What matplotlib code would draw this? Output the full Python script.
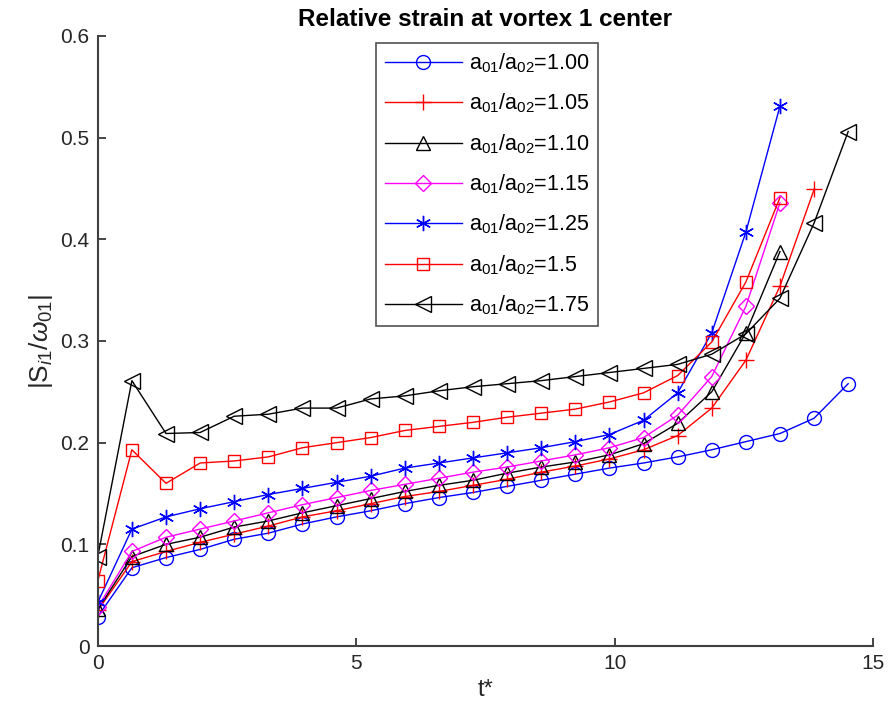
import matplotlib.pyplot as plt

plt.rcParams['font.family'] = ['Liberation Sans', 'DejaVu Sans']
plt.rcParams['mathtext.fontset'] = 'custom'
plt.rcParams['mathtext.rm'] = 'Liberation Sans'
plt.rcParams['mathtext.it'] = 'Liberation Sans:italic'

# time samples t*
t = [0.0, 0.66, 1.32, 1.98, 2.64, 3.30, 3.96, 4.62, 5.28, 5.94, 6.60, 7.26,
     7.92, 8.58, 9.24, 9.90, 10.56, 11.22, 11.88, 12.54, 13.20, 13.86, 14.52]

# |S_i1 / omega_01| for each radius ratio
s_100 = [0.029, 0.077, 0.087, 0.095, 0.105, 0.111, 0.120, 0.127, 0.133, 0.140, 0.146, 0.151,
         0.157, 0.163, 0.169, 0.175, 0.180, 0.186, 0.193, 0.201, 0.209, 0.224, 0.258]
s_105 = [0.035, 0.083, 0.093, 0.102, 0.110, 0.118, 0.127, 0.133, 0.140, 0.147, 0.152, 0.158,
         0.164, 0.171, 0.177, 0.184, 0.193, 0.207, 0.234, 0.281, 0.354, 0.449]
s_110 = [0.036, 0.088, 0.100, 0.107, 0.117, 0.123, 0.131, 0.138, 0.145, 0.152, 0.158, 0.163,
         0.170, 0.176, 0.181, 0.188, 0.199, 0.219, 0.250, 0.308, 0.388]
s_115 = [0.038, 0.093, 0.107, 0.115, 0.123, 0.131, 0.139, 0.146, 0.153, 0.159, 0.165, 0.171,
         0.176, 0.182, 0.188, 0.195, 0.205, 0.227, 0.265, 0.334, 0.436]
s_125 = [0.043, 0.115, 0.127, 0.135, 0.142, 0.149, 0.155, 0.161, 0.167, 0.175, 0.180, 0.185,
         0.190, 0.195, 0.201, 0.208, 0.222, 0.249, 0.308, 0.407, 0.531]
s_150 = [0.064, 0.193, 0.160, 0.180, 0.182, 0.186, 0.195, 0.200, 0.205, 0.212, 0.216, 0.220,
         0.225, 0.229, 0.233, 0.240, 0.249, 0.266, 0.299, 0.358, 0.441]
s_175 = [0.088, 0.261, 0.209, 0.210, 0.226, 0.228, 0.234, 0.234, 0.243, 0.246, 0.251, 0.255,
         0.258, 0.261, 0.265, 0.269, 0.273, 0.277, 0.287, 0.307, 0.342, 0.416, 0.506]

ratios = ['1.00', '1.05', '1.10', '1.15', '1.25', '1.5', '1.75']
series = [s_100, s_105, s_110, s_115, s_125, s_150, s_175]
colors = ['blue', 'red', 'black', 'magenta', 'blue', 'red', 'black']
markers = ['o', '+', '^', 'D', (6, 2, 0), 's', '<']
msizes = [10, 12, 10, 8, 11, 9, 11]

fig = plt.figure(figsize=(8.89, 7.19), dpi=100)
ax = fig.add_axes([0.110, 0.1015, 0.872, 0.8485])

for r, s, c, m, ms in zip(ratios, series, colors, markers, msizes):
    ax.plot(t[:len(s)], s, color=c, marker=m, markersize=ms, markerfacecolor='none',
            markeredgecolor=c, markeredgewidth=1.0, linewidth=1.0,
            label=r'a$_{01}$/a$_{02}$=' + r)

ax.set_xlim(0, 15)
ax.set_ylim(0, 0.6)
ax.set_xticks([0, 5, 10, 15])
ax.set_yticks([0, 0.1, 0.2, 0.3, 0.4, 0.5, 0.6])
ax.set_yticklabels(['0', '0.1', '0.2', '0.3', '0.4', '0.5', '0.6'])
ax.tick_params(direction='in', length=6, labelsize=15, colors='#262626', width=1.2, pad=6)
for side in ['top', 'right']:
    ax.spines[side].set_visible(False)
for side in ['left', 'bottom']:
    ax.spines[side].set_color('#404040')
    ax.spines[side].set_linewidth(1.5)

ax.set_title('Relative strain at vortex 1 center', fontsize=17.5, fontweight='bold', pad=7)
ax.set_xlabel('t*', fontsize=17, color='#262626', labelpad=4)
ax.set_ylabel(r'|S$_{i1}$/$\omega_{01}$|', fontsize=19, color='#262626', labelpad=4)

leg = ax.legend(loc='upper left', bbox_to_anchor=(0.359, 0.989), fontsize=15.5,
                handlelength=3.6, handletextpad=0.3, labelspacing=0.78,
                borderpad=0.4, frameon=True, fancybox=False, borderaxespad=0)
leg.get_frame().set_edgecolor('#262626')
leg.get_frame().set_linewidth(1.2)

fig.savefig('out.png', dpi=100)
